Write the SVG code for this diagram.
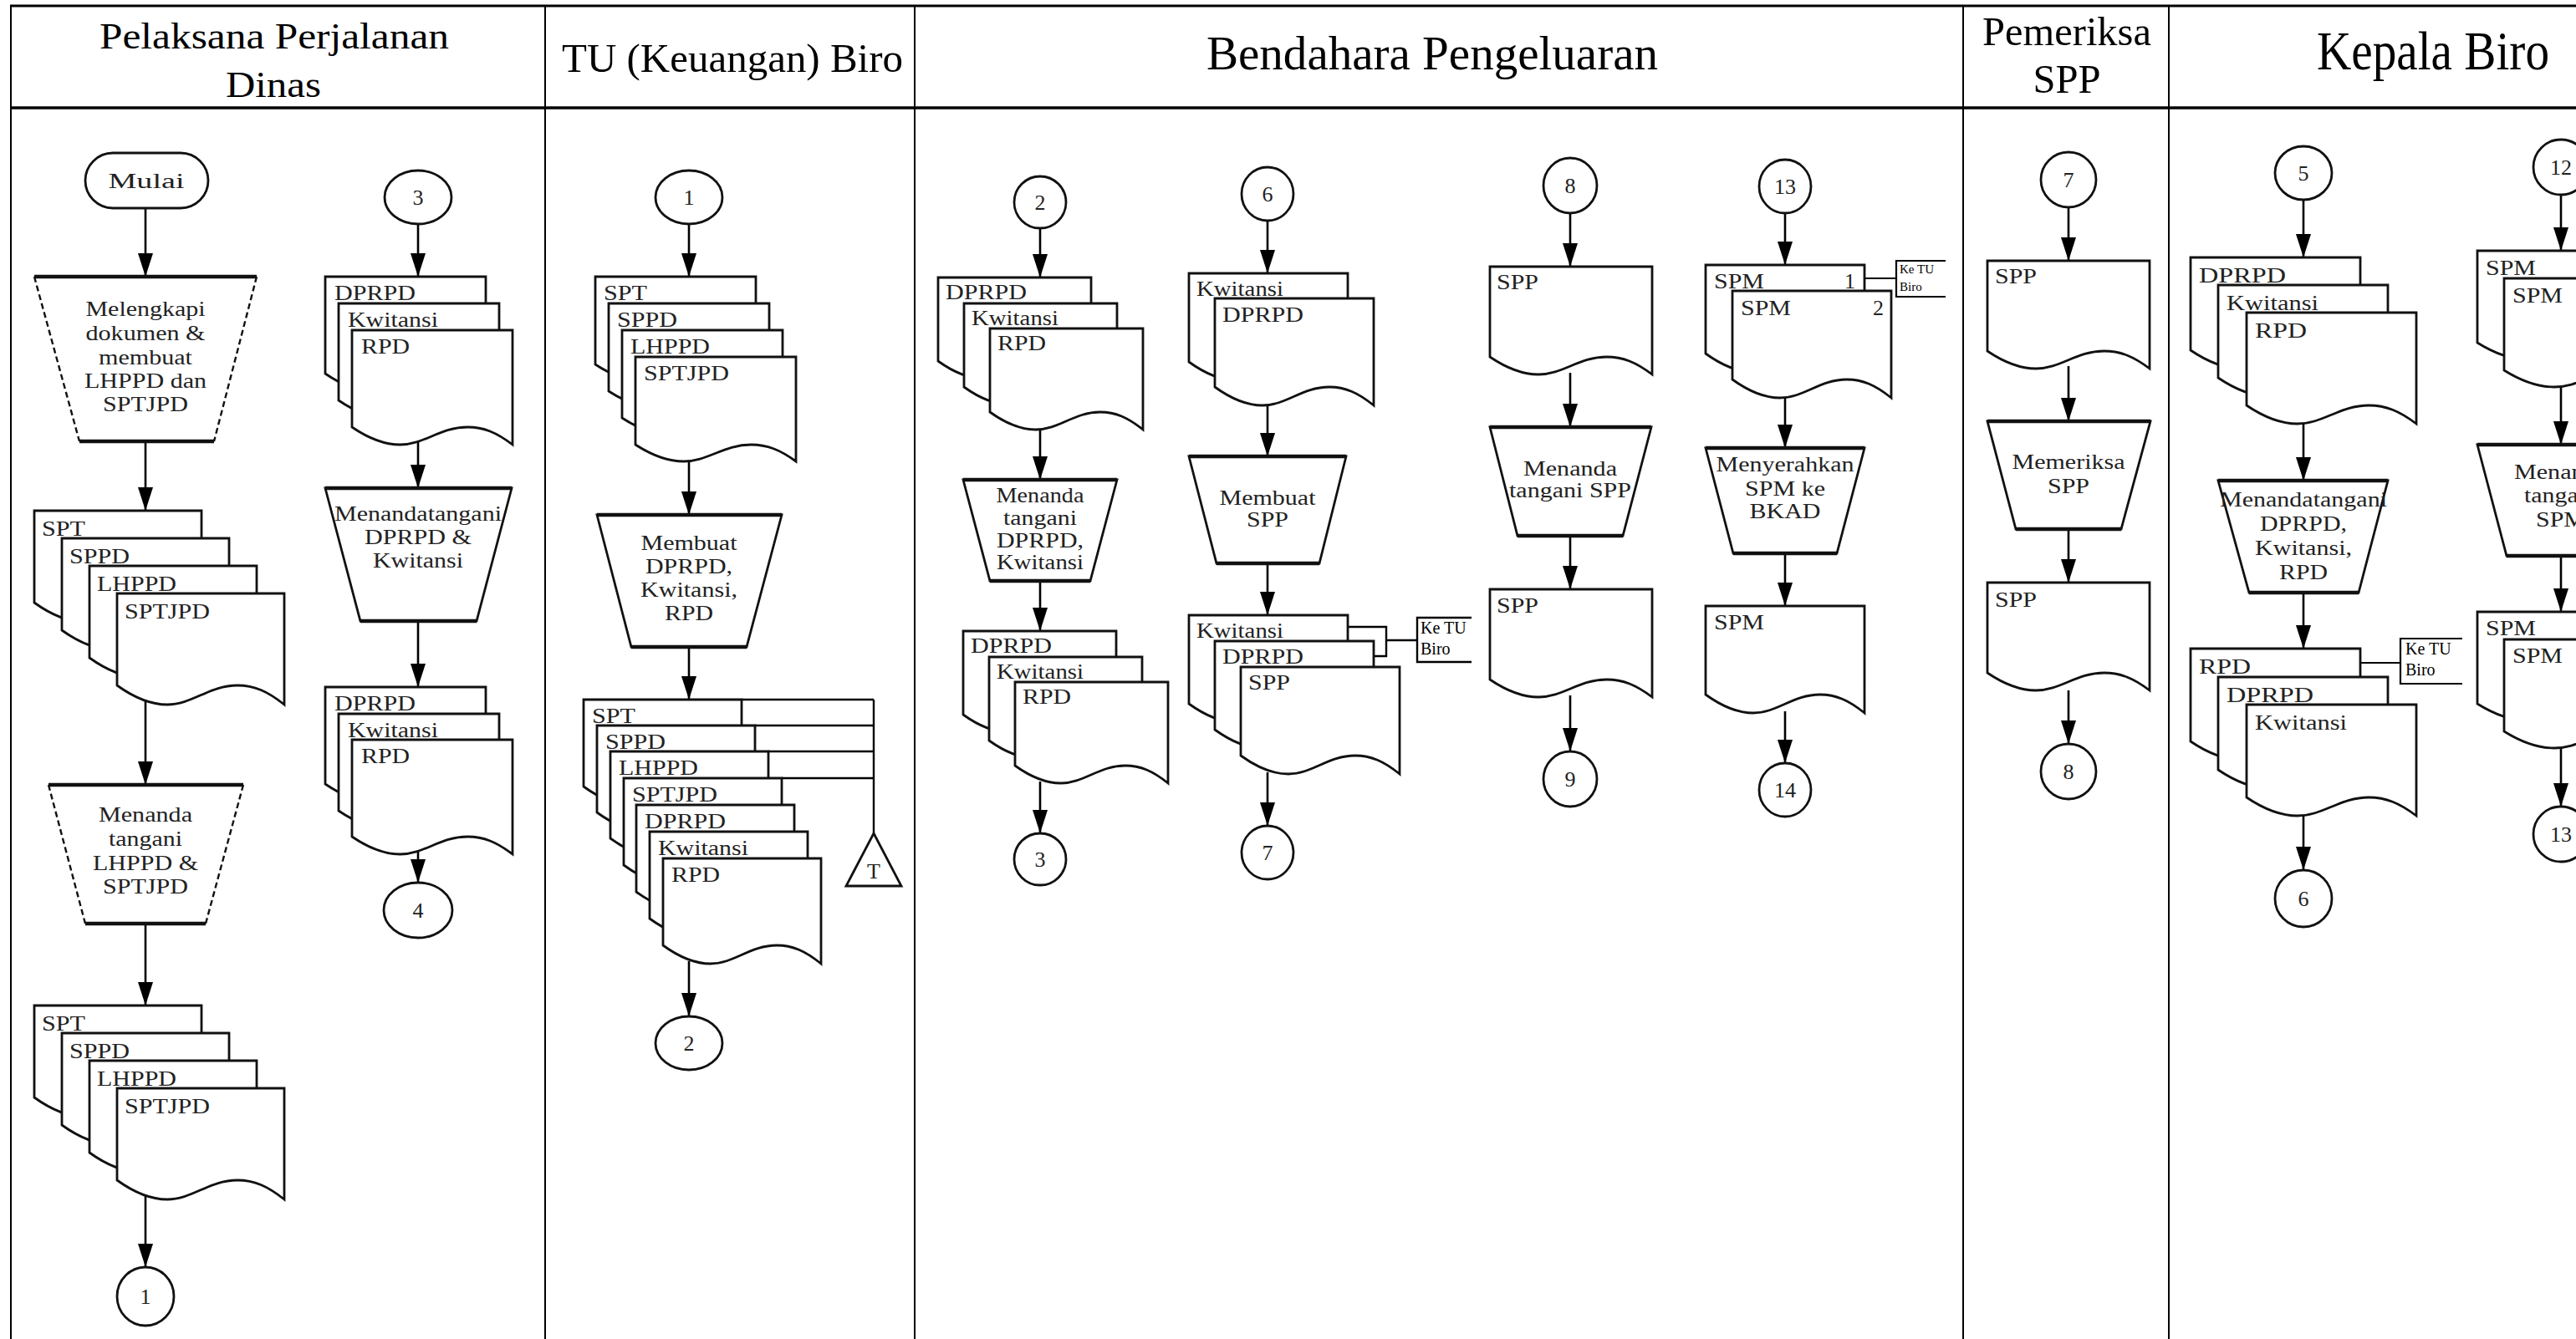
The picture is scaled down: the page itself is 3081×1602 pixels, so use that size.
<svg xmlns="http://www.w3.org/2000/svg" xmlns:xlink="http://www.w3.org/1999/xlink" width="3081" height="1602" viewBox="0 0 3081 1602">
<style>
.sh{fill:#fff;stroke:#111;stroke-width:2.8}
.tp{stroke:#111;stroke-width:4.5;fill:none}
.ds{stroke:#111;stroke-width:2.4;fill:none;stroke-dasharray:7 4}
.t{font-family:"Liberation Serif","Times New Roman",serif;font-size:26px;fill:#222}
.c{text-anchor:middle}
.n{font-family:"Liberation Serif","Times New Roman",serif;font-size:26px;fill:#222;text-anchor:middle}
.hd{font-family:"Liberation Serif","Times New Roman",serif;fill:#000;text-anchor:middle}
.kt{font-family:"Liberation Serif","Times New Roman",serif;fill:#000}
</style>
<defs>
<marker id="arr" markerUnits="userSpaceOnUse" markerWidth="28" markerHeight="20" refX="28" refY="10" orient="auto" viewBox="0 0 28 20"><path d="M0,1 L28,10 L0,19 z" fill="#000"/></marker>
<path id="dA" class="sh" d="M0,0 H200 V133 C180,116.9 164,110 144,110 C110,110 90,133 60,133 C36,133 16,121.5 0,110 Z"/>
<path id="dB" class="sh" d="M0,0 H192 V137 C172.8,122.3 157.4,116 138.2,116 C105.6,116 86.4,137 57.6,137 C34.6,137 15.4,126.5 0,116 Z"/>
<path id="dC" class="sh" d="M0,0 H192 V125 C172.8,111 157.4,105 138.2,105 C105.6,105 86.4,125 57.6,125 C34.6,125 15.4,115 0,105 Z"/>
<path id="dD" class="sh" d="M0,0 H189 V126 C170.1,110.6 155,104 136.1,104 C104,104 85,126 56.7,126 C34,126 15.1,115 0,104 Z"/>
<path id="dE" class="sh" d="M0,0 H183 V121 C164.7,106.3 150.1,100 131.8,100 C100.7,100 82.4,121 54.9,121 C32.9,121 14.6,110.5 0,100 Z"/>
<path id="dF" class="sh" d="M0,0 H190 V128 C171,112.6 155.8,106 136.8,106 C104.5,106 85.5,128 57,128 C34.2,128 15.2,117 0,106 Z"/>
<path id="dG" class="sh" d="M0,0 H194 V129 C174.6,114.3 159.1,108 139.7,108 C106.7,108 87.3,129 58.2,129 C34.9,129 15.5,118.5 0,108 Z"/>
<path id="dH" class="sh" d="M0,0 H203 V133 C182.7,117.6 166.5,111 146.2,111 C111.7,111 91.4,133 60.9,133 C36.5,133 16.2,122 0,111 Z"/>
<path id="dI" class="sh" d="M0,0 H200 V130 C180,116 164,110 144,110 C110,110 90,130 60,130 C36,130 16,120 0,110 Z"/>
</defs>
<rect width="3081" height="1602" fill="#fff"/>

<g id="table" stroke="#000" fill="none">
<line x1="12" y1="7" x2="3081" y2="7" stroke-width="3"/>
<line x1="12" y1="129" x2="3081" y2="129" stroke-width="3.5"/>
<line x1="13" y1="6" x2="13" y2="1602" stroke-width="2"/>
<line x1="652" y1="7" x2="652" y2="1602" stroke-width="2"/>
<line x1="1094" y1="7" x2="1094" y2="1602" stroke-width="2"/>
<line x1="2348" y1="7" x2="2348" y2="1602" stroke-width="2"/>
<line x1="2594" y1="7" x2="2594" y2="1602" stroke-width="2"/>
</g>
<g id="headers">
<text class="hd" x="328" y="58" font-size="44" textLength="418" lengthAdjust="spacingAndGlyphs">Pelaksana Perjalanan</text>
<text class="hd" x="327" y="116" font-size="44" textLength="114" lengthAdjust="spacingAndGlyphs">Dinas</text>
<text class="hd" x="876" y="86" font-size="49" textLength="408" lengthAdjust="spacingAndGlyphs">TU (Keuangan) Biro</text>
<text class="hd" x="1713" y="83" font-size="57" textLength="540" lengthAdjust="spacingAndGlyphs">Bendahara Pengeluaran</text>
<text class="hd" x="2472" y="54" font-size="48" textLength="202" lengthAdjust="spacingAndGlyphs">Pemeriksa</text>
<text class="hd" x="2472" y="111" font-size="48" textLength="81" lengthAdjust="spacingAndGlyphs">SPP</text>
<text class="hd" x="2910" y="83" font-size="65" textLength="278" lengthAdjust="spacingAndGlyphs">Kepala Biro</text>
</g>

<g id="connectors" stroke="#000" stroke-width="2.6" fill="none">
<line x1="174" y1="249" x2="174" y2="331" marker-end="url(#arr)"/>
<line x1="174" y1="528" x2="174" y2="611" marker-end="url(#arr)"/>
<line x1="174" y1="835" x2="174" y2="939" marker-end="url(#arr)"/>
<line x1="174" y1="1105" x2="174" y2="1203" marker-end="url(#arr)"/>
<line x1="174" y1="1428" x2="174" y2="1516" marker-end="url(#arr)"/>
<line x1="500" y1="268" x2="500" y2="331" marker-end="url(#arr)"/>
<line x1="500" y1="525" x2="500" y2="584" marker-end="url(#arr)"/>
<line x1="500" y1="743" x2="500" y2="822" marker-end="url(#arr)"/>
<line x1="500" y1="1015" x2="500" y2="1056" marker-end="url(#arr)"/>
<line x1="824" y1="268" x2="824" y2="331" marker-end="url(#arr)"/>
<line x1="824" y1="548" x2="824" y2="616" marker-end="url(#arr)"/>
<line x1="824" y1="774" x2="824" y2="837" marker-end="url(#arr)"/>
<line x1="824" y1="1150" x2="824" y2="1216" marker-end="url(#arr)"/>
<line x1="1244" y1="273" x2="1244" y2="332" marker-end="url(#arr)"/>
<line x1="1244" y1="512" x2="1244" y2="574" marker-end="url(#arr)"/>
<line x1="1244" y1="695" x2="1244" y2="755" marker-end="url(#arr)"/>
<line x1="1244" y1="935" x2="1244" y2="997" marker-end="url(#arr)"/>
<line x1="1516" y1="264" x2="1516" y2="327" marker-end="url(#arr)"/>
<line x1="1516" y1="483" x2="1516" y2="546" marker-end="url(#arr)"/>
<line x1="1516" y1="674" x2="1516" y2="736" marker-end="url(#arr)"/>
<line x1="1516" y1="924" x2="1516" y2="988" marker-end="url(#arr)"/>
<line x1="1878" y1="255" x2="1878" y2="319" marker-end="url(#arr)"/>
<line x1="1878" y1="446" x2="1878" y2="511" marker-end="url(#arr)"/>
<line x1="1878" y1="641" x2="1878" y2="705" marker-end="url(#arr)"/>
<line x1="1878" y1="832" x2="1878" y2="899" marker-end="url(#arr)"/>
<line x1="2135" y1="255" x2="2135" y2="317" marker-end="url(#arr)"/>
<line x1="2135" y1="474" x2="2135" y2="536" marker-end="url(#arr)"/>
<line x1="2135" y1="662" x2="2135" y2="725" marker-end="url(#arr)"/>
<line x1="2135" y1="851" x2="2135" y2="913" marker-end="url(#arr)"/>
<line x1="2474" y1="248" x2="2474" y2="312" marker-end="url(#arr)"/>
<line x1="2474" y1="438" x2="2474" y2="504" marker-end="url(#arr)"/>
<line x1="2474" y1="633" x2="2474" y2="697" marker-end="url(#arr)"/>
<line x1="2474" y1="826" x2="2474" y2="890" marker-end="url(#arr)"/>
<line x1="2755" y1="239" x2="2755" y2="308" marker-end="url(#arr)"/>
<line x1="2755" y1="506" x2="2755" y2="575" marker-end="url(#arr)"/>
<line x1="2755" y1="709" x2="2755" y2="776" marker-end="url(#arr)"/>
<line x1="2755" y1="975" x2="2755" y2="1041" marker-end="url(#arr)"/>
<line x1="3063" y1="233" x2="3063" y2="300" marker-end="url(#arr)"/>
<line x1="3063" y1="463" x2="3063" y2="532" marker-end="url(#arr)"/>
<line x1="3063" y1="665" x2="3063" y2="732" marker-end="url(#arr)"/>
<line x1="3063" y1="895" x2="3063" y2="965" marker-end="url(#arr)"/>
<path d="M887,837 H1045 M903,868 H1045 M919,899 H1045 M935,931 H1045 M1045,837 V997" stroke-width="2.4"/>
<path d="M1611,750 H1658 V785 H1642 M1658,766 H1695" stroke-width="2.4"/>
<path d="M2230,333 H2268" stroke-width="2.2"/>
<path d="M2822,793 H2871" stroke-width="2.2"/>
</g>

<g id="mulai">
<rect class="sh" x="102" y="183" width="147" height="66" rx="33" stroke-width="3"/>
<text class="t c" x="175" y="225" font-size="30" textLength="91" lengthAdjust="spacingAndGlyphs">Mulai</text>
</g>
<g id="melengkapi">
<polygon points="41,331 307,331 256,528 95,528" fill="#fff"/>
<path class="ds" d="M41,331 L95,528 M307,331 L256,528"/>
<path class="tp" d="M41,331 H307 M95,528 H256"/>
<text class="t c" x="174" y="378" textLength="143" lengthAdjust="spacingAndGlyphs">Melengkapi</text>
<text class="t c" x="174" y="407" textLength="143" lengthAdjust="spacingAndGlyphs">dokumen &amp;</text>
<text class="t c" x="174" y="436" textLength="112" lengthAdjust="spacingAndGlyphs">membuat</text>
<text class="t c" x="174" y="464" textLength="146" lengthAdjust="spacingAndGlyphs">LHPPD dan</text>
<text class="t c" x="174" y="492" textLength="102" lengthAdjust="spacingAndGlyphs">SPTJPD</text>
</g>
<g id="docs-l1a">
<use href="#dA" x="41" y="611"/>
<text class="t" x="50" y="641" textLength="52" lengthAdjust="spacingAndGlyphs">SPT</text>
<use href="#dA" x="74" y="644"/>
<text class="t" x="83" y="674" textLength="72" lengthAdjust="spacingAndGlyphs">SPPD</text>
<use href="#dA" x="107" y="677"/>
<text class="t" x="116" y="707" textLength="95" lengthAdjust="spacingAndGlyphs">LHPPD</text>
<use href="#dA" x="140" y="710"/>
<text class="t" x="149" y="740" textLength="102" lengthAdjust="spacingAndGlyphs">SPTJPD</text>
</g>
<g id="menanda-lhppd">
<polygon points="58,939 291,939 246,1105 102,1105" fill="#fff"/>
<path class="ds" d="M58,939 L102,1105 M291,939 L246,1105"/>
<path class="tp" d="M58,939 H291 M102,1105 H246"/>
<text class="t c" x="174" y="983" textLength="112" lengthAdjust="spacingAndGlyphs">Menanda</text>
<text class="t c" x="174" y="1012" textLength="88" lengthAdjust="spacingAndGlyphs">tangani</text>
<text class="t c" x="174" y="1041" textLength="126" lengthAdjust="spacingAndGlyphs">LHPPD &amp;</text>
<text class="t c" x="174" y="1069" textLength="102" lengthAdjust="spacingAndGlyphs">SPTJPD</text>
</g>
<g id="docs-l1b">
<use href="#dA" x="41" y="1203"/>
<text class="t" x="50" y="1233" textLength="52" lengthAdjust="spacingAndGlyphs">SPT</text>
<use href="#dA" x="74" y="1236"/>
<text class="t" x="83" y="1266" textLength="72" lengthAdjust="spacingAndGlyphs">SPPD</text>
<use href="#dA" x="107" y="1269"/>
<text class="t" x="116" y="1299" textLength="95" lengthAdjust="spacingAndGlyphs">LHPPD</text>
<use href="#dA" x="140" y="1302"/>
<text class="t" x="149" y="1332" textLength="102" lengthAdjust="spacingAndGlyphs">SPTJPD</text>
</g>
<g id="c1-l1"><ellipse class="sh" cx="174" cy="1551" rx="34" ry="35"/><text class="n" x="174" y="1560">1</text></g>

<g id="c3-l1"><ellipse class="sh" cx="500" cy="236" rx="40" ry="32"/><text class="n" x="500" y="245">3</text></g>
<g id="docs-l1c">
<use href="#dB" x="389" y="331"/>
<text class="t" x="400" y="359" textLength="97" lengthAdjust="spacingAndGlyphs">DPRPD</text>
<use href="#dB" x="405" y="363"/>
<text class="t" x="416" y="391" textLength="108" lengthAdjust="spacingAndGlyphs">Kwitansi</text>
<use href="#dB" x="421" y="395"/>
<text class="t" x="432" y="423" textLength="58" lengthAdjust="spacingAndGlyphs">RPD</text>
</g>
<g id="menandatangani-l1">
<polygon class="sh" points="389,584 612,584 570,743 431,743"/>
<path class="tp" d="M389,584 H612 M431,743 H570"/>
<text class="t c" x="500" y="623" textLength="200" lengthAdjust="spacingAndGlyphs">Menandatangani</text>
<text class="t c" x="500" y="651" textLength="128" lengthAdjust="spacingAndGlyphs">DPRPD &amp;</text>
<text class="t c" x="500" y="679" textLength="108" lengthAdjust="spacingAndGlyphs">Kwitansi</text>
</g>
<g id="docs-l1d">
<use href="#dB" x="389" y="822"/>
<text class="t" x="400" y="850" textLength="97" lengthAdjust="spacingAndGlyphs">DPRPD</text>
<use href="#dB" x="405" y="854"/>
<text class="t" x="416" y="882" textLength="108" lengthAdjust="spacingAndGlyphs">Kwitansi</text>
<use href="#dB" x="421" y="885"/>
<text class="t" x="432" y="913" textLength="58" lengthAdjust="spacingAndGlyphs">RPD</text>
</g>
<g id="c4-l1"><ellipse class="sh" cx="500" cy="1089" rx="41" ry="33"/><text class="n" x="500" y="1098">4</text></g>

<g id="c1-l2"><ellipse class="sh" cx="824" cy="236" rx="40" ry="32"/><text class="n" x="824" y="245">1</text></g>
<g id="docs-l2a">
<use href="#dC" x="712" y="331"/>
<text class="t" x="722" y="359" textLength="52" lengthAdjust="spacingAndGlyphs">SPT</text>
<use href="#dC" x="728" y="363"/>
<text class="t" x="738" y="391" textLength="72" lengthAdjust="spacingAndGlyphs">SPPD</text>
<use href="#dC" x="744" y="395"/>
<text class="t" x="754" y="423" textLength="95" lengthAdjust="spacingAndGlyphs">LHPPD</text>
<use href="#dC" x="760" y="427"/>
<text class="t" x="770" y="455" textLength="102" lengthAdjust="spacingAndGlyphs">SPTJPD</text>
</g>
<g id="membuat-l2">
<polygon class="sh" points="714,616 935,616 893,774 755,774"/>
<path class="tp" d="M714,616 H935 M755,774 H893"/>
<text class="t c" x="824" y="658" textLength="115" lengthAdjust="spacingAndGlyphs">Membuat</text>
<text class="t c" x="824" y="686" textLength="104" lengthAdjust="spacingAndGlyphs">DPRPD,</text>
<text class="t c" x="824" y="714" textLength="116" lengthAdjust="spacingAndGlyphs">Kwitansi,</text>
<text class="t c" x="824" y="742" textLength="58" lengthAdjust="spacingAndGlyphs">RPD</text>
</g>
<g id="docs-l2b">
<use href="#dD" x="698" y="837"/>
<text class="t" x="708" y="865" textLength="52" lengthAdjust="spacingAndGlyphs">SPT</text>
<use href="#dD" x="714" y="868"/>
<text class="t" x="724" y="896" textLength="72" lengthAdjust="spacingAndGlyphs">SPPD</text>
<use href="#dD" x="730" y="899"/>
<text class="t" x="740" y="927" textLength="95" lengthAdjust="spacingAndGlyphs">LHPPD</text>
<use href="#dD" x="746" y="931"/>
<text class="t" x="756" y="959" textLength="102" lengthAdjust="spacingAndGlyphs">SPTJPD</text>
<use href="#dD" x="761" y="963"/>
<text class="t" x="771" y="991" textLength="97" lengthAdjust="spacingAndGlyphs">DPRPD</text>
<use href="#dD" x="777" y="995"/>
<text class="t" x="787" y="1023" textLength="108" lengthAdjust="spacingAndGlyphs">Kwitansi</text>
<use href="#dD" x="793" y="1027"/>
<text class="t" x="803" y="1055" textLength="58" lengthAdjust="spacingAndGlyphs">RPD</text>
</g>
<g id="arsip-t">
<polygon class="sh" points="1045,997 1078,1060 1012,1060"/>
<text class="t c" x="1045" y="1051" font-size="22">T</text>
</g>
<g id="c2-l2"><ellipse class="sh" cx="824" cy="1248" rx="40" ry="32"/><text class="n" x="824" y="1257">2</text></g>

<g id="c2-l3"><ellipse class="sh" cx="1244" cy="242" rx="31" ry="31"/><text class="n" x="1244" y="251">2</text></g>
<g id="docs-l3a">
<use href="#dE" x="1122" y="332"/>
<text class="t" x="1131" y="358" textLength="97" lengthAdjust="spacingAndGlyphs">DPRPD</text>
<use href="#dE" x="1153" y="363"/>
<text class="t" x="1162" y="389" textLength="104" lengthAdjust="spacingAndGlyphs">Kwitansi</text>
<use href="#dE" x="1184" y="393"/>
<text class="t" x="1193" y="419" textLength="58" lengthAdjust="spacingAndGlyphs">RPD</text>
</g>
<g id="menanda-l3a">
<polygon class="sh" points="1152,574 1336,574 1304,695 1184,695"/>
<path class="tp" d="M1152,574 H1336 M1184,695 H1304"/>
<text class="t c" x="1244" y="601" textLength="105" lengthAdjust="spacingAndGlyphs">Menanda</text>
<text class="t c" x="1244" y="628" textLength="88" lengthAdjust="spacingAndGlyphs">tangani</text>
<text class="t c" x="1244" y="655" textLength="104" lengthAdjust="spacingAndGlyphs">DPRPD,</text>
<text class="t c" x="1244" y="681" textLength="104" lengthAdjust="spacingAndGlyphs">Kwitansi</text>
</g>
<g id="docs-l3b">
<use href="#dE" x="1152" y="755"/>
<text class="t" x="1161" y="781" textLength="97" lengthAdjust="spacingAndGlyphs">DPRPD</text>
<use href="#dE" x="1183" y="786"/>
<text class="t" x="1192" y="812" textLength="104" lengthAdjust="spacingAndGlyphs">Kwitansi</text>
<use href="#dE" x="1214" y="816"/>
<text class="t" x="1223" y="842" textLength="58" lengthAdjust="spacingAndGlyphs">RPD</text>
</g>
<g id="c3-l3"><ellipse class="sh" cx="1244" cy="1028" rx="31" ry="31"/><text class="n" x="1244" y="1037">3</text></g>

<g id="c6-l3"><ellipse class="sh" cx="1516" cy="232" rx="31" ry="32"/><text class="n" x="1516" y="241">6</text></g>
<g id="docs-l3c">
<use href="#dF" x="1422" y="327"/>
<text class="t" x="1431" y="354" textLength="104" lengthAdjust="spacingAndGlyphs">Kwitansi</text>
<use href="#dF" x="1453" y="357"/>
<text class="t" x="1462" y="385" textLength="97" lengthAdjust="spacingAndGlyphs">DPRPD</text>
</g>
<g id="membuat-spp">
<polygon class="sh" points="1422,546 1610,546 1578,674 1455,674"/>
<path class="tp" d="M1422,546 H1610 M1455,674 H1578"/>
<text class="t c" x="1516" y="604" textLength="115" lengthAdjust="spacingAndGlyphs">Membuat</text>
<text class="t c" x="1516" y="630" textLength="50" lengthAdjust="spacingAndGlyphs">SPP</text>
</g>
<g id="docs-l3d">
<use href="#dF" x="1422" y="736"/>
<text class="t" x="1431" y="763" textLength="104" lengthAdjust="spacingAndGlyphs">Kwitansi</text>
<use href="#dF" x="1453" y="767"/>
<text class="t" x="1462" y="794" textLength="97" lengthAdjust="spacingAndGlyphs">DPRPD</text>
<use href="#dF" x="1484" y="798"/>
<text class="t" x="1493" y="825" textLength="50" lengthAdjust="spacingAndGlyphs">SPP</text>
</g>
<g id="ketu-l3a">
<path d="M1760,739 H1695 V792 H1760" fill="none" stroke="#000" stroke-width="2.4"/>
<text class="kt" x="1699" y="758" font-size="20">Ke TU</text>
<text class="kt" x="1699" y="783" font-size="20">Biro</text>
</g>
<g id="c7-l3"><ellipse class="sh" cx="1516" cy="1020" rx="31" ry="32"/><text class="n" x="1516" y="1029">7</text></g>

<g id="c8-l3"><ellipse class="sh" cx="1878" cy="222" rx="32" ry="33"/><text class="n" x="1878" y="231">8</text></g>
<g id="doc-spp-a">
<use href="#dG" x="1782" y="319"/>
<text class="t" x="1790" y="346" textLength="50" lengthAdjust="spacingAndGlyphs">SPP</text>
</g>
<g id="menanda-spp">
<polygon class="sh" points="1782,511 1975,511 1941,641 1815,641"/>
<path class="tp" d="M1782,511 H1975 M1815,641 H1941"/>
<text class="t c" x="1878" y="569" textLength="112" lengthAdjust="spacingAndGlyphs">Menanda</text>
<text class="t c" x="1878" y="595" textLength="146" lengthAdjust="spacingAndGlyphs">tangani SPP</text>
</g>
<g id="doc-spp-b">
<use href="#dG" x="1782" y="705"/>
<text class="t" x="1790" y="733" textLength="50" lengthAdjust="spacingAndGlyphs">SPP</text>
</g>
<g id="c9-l3"><ellipse class="sh" cx="1878" cy="932" rx="32" ry="33"/><text class="n" x="1878" y="941">9</text></g>

<g id="c13-l3"><ellipse class="sh" cx="2135" cy="223" rx="31" ry="32"/><text class="n" x="2135" y="232">13</text></g>
<g id="docs-spm-a">
<use href="#dF" x="2040" y="317"/>
<text class="t" x="2050" y="345" textLength="60" lengthAdjust="spacingAndGlyphs">SPM</text>
<text class="t" x="2219" y="345" text-anchor="end">1</text>
<use href="#dF" x="2072" y="348"/>
<text class="t" x="2082" y="377" textLength="60" lengthAdjust="spacingAndGlyphs">SPM</text>
<text class="t" x="2253" y="377" text-anchor="end">2</text>
</g>
<g id="ketu-l3b">
<path d="M2327,312 H2268 V355 H2327" fill="none" stroke="#000" stroke-width="2.2"/>
<text class="kt" x="2272" y="327" font-size="15">Ke TU</text>
<text class="kt" x="2272" y="348" font-size="15">Biro</text>
</g>
<g id="menyerahkan">
<polygon class="sh" points="2040,536 2230,536 2197,662 2073,662"/>
<path class="tp" d="M2040,536 H2230 M2073,662 H2197"/>
<text class="t c" x="2135" y="564" textLength="165" lengthAdjust="spacingAndGlyphs">Menyerahkan</text>
<text class="t c" x="2135" y="593" textLength="96" lengthAdjust="spacingAndGlyphs">SPM ke</text>
<text class="t c" x="2135" y="620" textLength="85" lengthAdjust="spacingAndGlyphs">BKAD</text>
</g>
<g id="doc-spm-b">
<use href="#dF" x="2040" y="725"/>
<text class="t" x="2050" y="753" textLength="60" lengthAdjust="spacingAndGlyphs">SPM</text>
</g>
<g id="c14-l3"><ellipse class="sh" cx="2135" cy="945" rx="31" ry="32"/><text class="n" x="2135" y="954">14</text></g>

<g id="c7-l4"><ellipse class="sh" cx="2474" cy="215" rx="33" ry="33"/><text class="n" x="2474" y="224">7</text></g>
<g id="doc-spp-c">
<use href="#dG" x="2377" y="312"/>
<text class="t" x="2386" y="339" textLength="50" lengthAdjust="spacingAndGlyphs">SPP</text>
</g>
<g id="memeriksa">
<polygon class="sh" points="2377,504 2572,504 2537,633 2411,633"/>
<path class="tp" d="M2377,504 H2572 M2411,633 H2537"/>
<text class="t c" x="2474" y="561" textLength="135" lengthAdjust="spacingAndGlyphs">Memeriksa</text>
<text class="t c" x="2474" y="590" textLength="50" lengthAdjust="spacingAndGlyphs">SPP</text>
</g>
<g id="doc-spp-d">
<use href="#dG" x="2377" y="697"/>
<text class="t" x="2386" y="726" textLength="50" lengthAdjust="spacingAndGlyphs">SPP</text>
</g>
<g id="c8-l4"><ellipse class="sh" cx="2474" cy="923" rx="33" ry="33"/><text class="n" x="2474" y="932">8</text></g>

<g id="c5-l5"><ellipse class="sh" cx="2755" cy="207" rx="34" ry="32"/><text class="n" x="2755" y="216">5</text></g>
<g id="docs-l5a">
<use href="#dH" x="2620" y="308"/>
<text class="t" x="2630" y="338" textLength="104" lengthAdjust="spacingAndGlyphs">DPRPD</text>
<use href="#dH" x="2653" y="341"/>
<text class="t" x="2663" y="371" textLength="110" lengthAdjust="spacingAndGlyphs">Kwitansi</text>
<use href="#dH" x="2687" y="374"/>
<text class="t" x="2697" y="404" textLength="62" lengthAdjust="spacingAndGlyphs">RPD</text>
</g>
<g id="menandatangani-l5">
<polygon class="sh" points="2653,575 2856,575 2821,709 2690,709"/>
<path class="tp" d="M2653,575 H2856 M2690,709 H2821"/>
<text class="t c" x="2755" y="606" textLength="200" lengthAdjust="spacingAndGlyphs">Menandatangani</text>
<text class="t c" x="2755" y="635" textLength="104" lengthAdjust="spacingAndGlyphs">DPRPD,</text>
<text class="t c" x="2755" y="664" textLength="116" lengthAdjust="spacingAndGlyphs">Kwitansi,</text>
<text class="t c" x="2755" y="693" textLength="58" lengthAdjust="spacingAndGlyphs">RPD</text>
</g>
<g id="docs-l5b">
<use href="#dH" x="2620" y="776"/>
<text class="t" x="2630" y="806" textLength="62" lengthAdjust="spacingAndGlyphs">RPD</text>
<use href="#dH" x="2653" y="810"/>
<text class="t" x="2663" y="840" textLength="104" lengthAdjust="spacingAndGlyphs">DPRPD</text>
<use href="#dH" x="2687" y="843"/>
<text class="t" x="2697" y="873" textLength="110" lengthAdjust="spacingAndGlyphs">Kwitansi</text>
</g>
<g id="ketu-l5">
<path d="M2945,764 H2871 V818 H2945" fill="none" stroke="#000" stroke-width="2.2"/>
<text class="kt" x="2877" y="783" font-size="20">Ke TU</text>
<text class="kt" x="2877" y="808" font-size="20">Biro</text>
</g>
<g id="c6-l5"><ellipse class="sh" cx="2755" cy="1075" rx="34" ry="34"/><text class="n" x="2755" y="1084">6</text></g>

<g id="c12-l5"><ellipse class="sh" cx="3063" cy="200" rx="33" ry="33"/><text class="n" x="3063" y="209">12</text></g>
<g id="docs-l5c">
<use href="#dI" x="2963" y="300"/>
<text class="t" x="2973" y="329" textLength="60" lengthAdjust="spacingAndGlyphs">SPM</text>
<use href="#dI" x="2995" y="333"/>
<text class="t" x="3005" y="362" textLength="60" lengthAdjust="spacingAndGlyphs">SPM</text>
</g>
<g id="menanda-spm">
<polygon class="sh" points="2963,532 3163,532 3128,665 2998,665"/>
<path class="tp" d="M2963,532 H3163 M2998,665 H3128"/>
<text class="t c" x="3063" y="573" textLength="112" lengthAdjust="spacingAndGlyphs">Menanda</text>
<text class="t c" x="3063" y="601" textLength="88" lengthAdjust="spacingAndGlyphs">tangani</text>
<text class="t c" x="3063" y="630" textLength="60" lengthAdjust="spacingAndGlyphs">SPM</text>
</g>
<g id="docs-l5d">
<use href="#dI" x="2963" y="732"/>
<text class="t" x="2973" y="760" textLength="60" lengthAdjust="spacingAndGlyphs">SPM</text>
<use href="#dI" x="2995" y="765"/>
<text class="t" x="3005" y="793" textLength="60" lengthAdjust="spacingAndGlyphs">SPM</text>
</g>
<g id="c13-l5"><ellipse class="sh" cx="3063" cy="998" rx="33" ry="33"/><text class="n" x="3063" y="1007">13</text></g>
</svg>
